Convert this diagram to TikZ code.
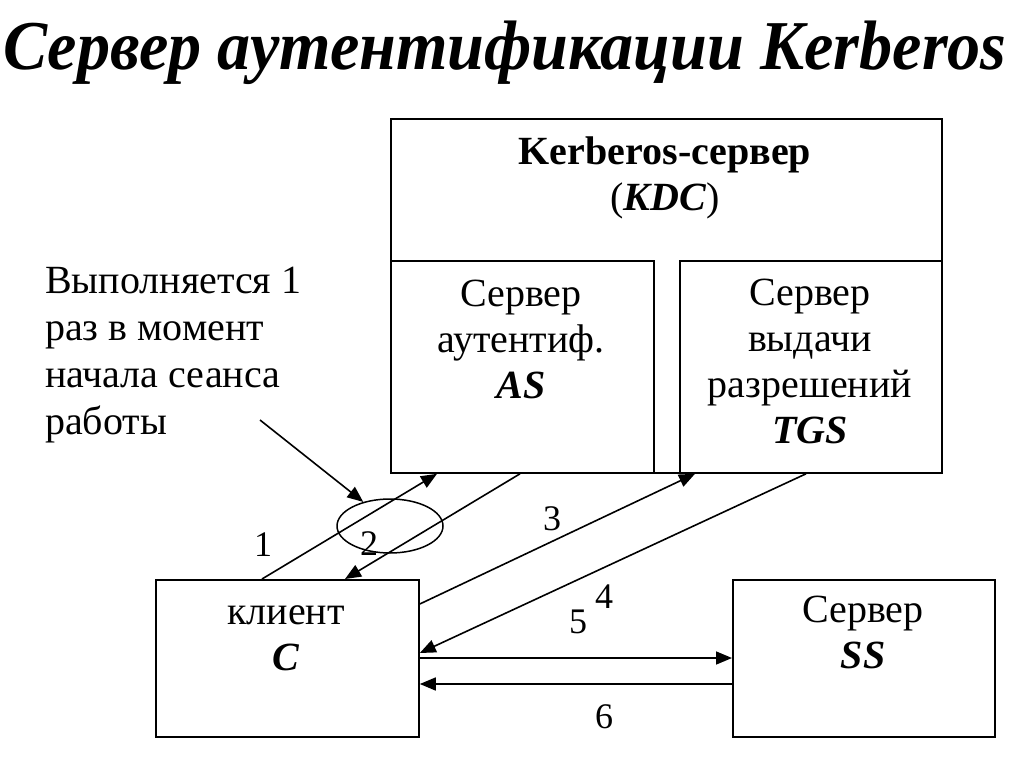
\documentclass[tikz,border=0pt]{standalone}
\usepackage{fontspec}
\setmainfont{Liberation Serif}
\usetikzlibrary{arrows.meta,calc,shapes.geometric}
\begin{document}
\begin{tikzpicture}[x=1pt,y=-1pt,
  box/.style={draw,line width=1.8pt,rectangle,inner sep=0pt,anchor=north west},
  lbl/.style={font=\fontsize{40}{46}\selectfont,align=center,inner sep=0pt,anchor=base},
  note/.style={font=\fontsize{40}{47}\selectfont,align=left,inner sep=0pt,anchor=base west},
  num/.style={font=\fontsize{36}{40}\selectfont,inner sep=0pt,anchor=base},
  conn/.style={line width=1.6pt,-{Triangle[length=16pt,width=13pt]}},
]
\useasboundingbox[fill=white] (0,0) rectangle (1024,767);

% title
\node[anchor=base west,inner sep=0pt] (title) at (3,70)
  {\scalebox{0.945}[1]{\fontsize{70}{80}\selectfont\bfseries\itshape Сервер аутентификации Kerberos}};

% boxes
\node[box,minimum width=551pt,minimum height=354pt] (kdc) at (390,118) {};
\node[box,minimum width=263pt,minimum height=212pt] (as) at (390,260) {};
\node[box,minimum width=262pt,minimum height=212pt] (tgs) at (679,260) {};
\node[box,minimum width=263pt,minimum height=157pt] (client) at (155,579) {};
\node[box,minimum width=262pt,minimum height=157pt] (ss) at (732,579) {};

% box texts (anchor = baseline of the last line)
\node[lbl] (kdctext) at (665,211) {\textbf{Kerberos-сервер}\\(\textbf{\textit{KDC}})};
\node[lbl] (astext) at (521,398) {Сервер\\аутентиф.\\\textbf{\textit{AS}}};
\node[lbl] (tgstext) at (810,443) {Сервер\\выдачи\\разрешений\\\textbf{\textit{TGS}}};
\node[lbl] (clienttext) at (286,670) {клиент\\\textbf{\textit{C}}};
\node[lbl] (sstext) at (863,668) {Сервер\\\textbf{\textit{SS}}};

% note
\node[note] (note) at (45,434) {Выполняется 1\\раз в момент\\начала сеанса\\работы};
\node[draw,line width=1.5pt,ellipse,minimum width=106pt,minimum height=54pt,inner sep=0pt] (oval) at (390,526) {};
\coordinate (notetail) at (260,420);
\draw[conn] (notetail) -- (oval.138);

% connectors
\draw[conn] ($(client.north west)+(107,0)$) -- ($(as.south west)+(47,0)$);
\draw[conn] ($(as.south west)+(130,0)$) -- ($(client.north west)+(190,0)$);
\draw[conn] ($(client.north east)+(0,25)$) -- ($(tgs.south west)+(16,0)$);
\draw[conn] ($(tgs.south west)+(127,0)$) -- ($(client.north east)+(0,74)$);
\draw[conn] ($(client.north east)+(0,79)$) -- ($(ss.north west)+(0,79)$);
\draw[conn] ($(ss.north west)+(0,105)$) -- ($(client.north east)+(0,105)$);

% numbers
\node[num] (n1) at (263,556) {1};
\node[num] (n2) at (369,555) {2};
\node[num] (n3) at (552,530) {3};
\node[num] (n4) at (604,608) {4};
\node[num] (n5) at (578,633) {5};
\node[num] (n6) at (604,728) {6};
\end{tikzpicture}
\end{document}
